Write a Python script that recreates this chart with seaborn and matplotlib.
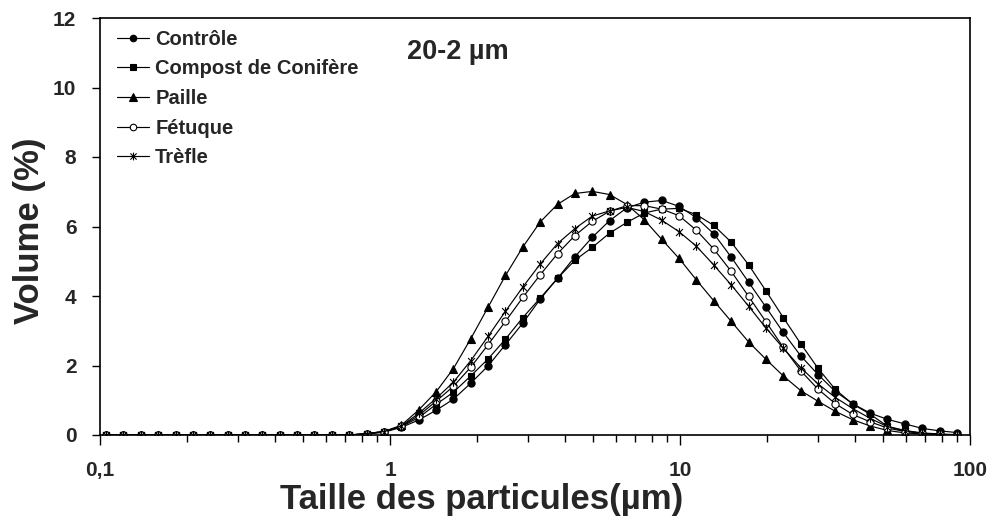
import matplotlib
matplotlib.use("Agg")
import matplotlib.pyplot as plt
from matplotlib.path import Path
from matplotlib.ticker import FixedLocator, LogLocator, NullFormatter
import seaborn as sns

# Particle size classes (µm), geometric progression of the laser sizer
sizes = [0.105, 0.1205, 0.1383, 0.1588, 0.1822, 0.2092, 0.2401, 0.2756, 0.3163, 0.3631,
         0.4168, 0.4784, 0.5491, 0.6302, 0.7234, 0.8303, 0.9530, 1.0939, 1.2556, 1.4412,
         1.6542, 1.8987, 2.1794, 2.5015, 2.8713, 3.2957, 3.7829, 4.3420, 4.9838, 5.7205,
         6.5660, 7.5366, 8.6506, 9.9292, 11.397, 13.081, 15.015, 17.234, 19.782, 22.706,
         26.062, 29.914, 34.336, 39.411, 45.237, 51.923, 59.598, 68.407, 78.518, 90.124]

zeros = [0.0] * 15

controle = zeros + [0.03, 0.08, 0.22, 0.43, 0.71, 1.03, 1.49, 1.99, 2.60, 3.22,
                    3.91, 4.51, 5.13, 5.69, 6.17, 6.54, 6.70, 6.75, 6.58, 6.25,
                    5.79, 5.12, 4.40, 3.68, 2.95, 2.28, 1.74, 1.25, 0.90, 0.63,
                    0.45, 0.32, 0.19, 0.12, 0.07]
compost = zeros + [0.03, 0.09, 0.24, 0.50, 0.88, 1.23, 1.70, 2.19, 2.76, 3.38,
                   3.94, 4.51, 5.03, 5.40, 5.81, 6.12, 6.39, 6.50, 6.52, 6.34,
                   6.03, 5.55, 4.90, 4.15, 3.38, 2.63, 1.92, 1.31, 0.89, 0.60,
                   0.25, 0.13, 0.06, 0.03, 0.01]
paille = zeros + [0.04, 0.10, 0.28, 0.72, 1.24, 1.91, 2.77, 3.68, 4.59, 5.41,
                  6.13, 6.64, 6.95, 7.01, 6.92, 6.63, 6.19, 5.63, 5.08, 4.46,
                  3.86, 3.27, 2.68, 2.18, 1.70, 1.28, 0.97, 0.68, 0.44, 0.26,
                  0.13, 0.06, 0.03, 0.01, 0.0]
fetuque = zeros + [0.04, 0.10, 0.25, 0.56, 0.97, 1.40, 1.95, 2.60, 3.27, 3.96,
                   4.61, 5.22, 5.74, 6.15, 6.44, 6.60, 6.60, 6.50, 6.31, 5.89,
                   5.35, 4.71, 3.99, 3.26, 2.52, 1.85, 1.32, 0.90, 0.59, 0.38,
                   0.20, 0.10, 0.05, 0.02, 0.0]
trefle = zeros + [0.04, 0.10, 0.26, 0.62, 1.05, 1.52, 2.14, 2.84, 3.56, 4.26,
                  4.92, 5.51, 5.94, 6.30, 6.45, 6.55, 6.43, 6.18, 5.85, 5.43,
                  4.89, 4.32, 3.71, 3.08, 2.50, 1.94, 1.47, 1.08, 0.76, 0.48,
                  0.24, 0.12, 0.05, 0.02, 0.0]

labels = ["Contrôle", "Compost de Conifère", "Paille", "Fétuque", "Trèfle"]
x_tick_values = [0.1, 1, 10, 100]
x_tick_labels = ["0,1", "1", "10", "100"]
y_tick_values = [0, 2, 4, 6, 8, 10, 12]

sns.set_theme(style="white")
plt.rcParams["font.family"] = ["Liberation Sans", "DejaVu Sans"]
plt.rcParams["font.weight"] = "bold"

# asterisk: an X crossed by a vertical bar
star_path = Path(
    [(-1, -1), (1, 1), (-1, 1), (1, -1), (0, -1.25), (0, 1.25)],
    [Path.MOVETO, Path.LINETO, Path.MOVETO, Path.LINETO, Path.MOVETO, Path.LINETO],
)

series = [controle, compost, paille, fetuque, trefle]
styles = [
    dict(marker="o", ms=5.2, mfc="black"),
    dict(marker="s", ms=4.8, mfc="black"),
    dict(marker="^", ms=5.8, mfc="black"),
    dict(marker="o", ms=5.2, mfc="white"),
    dict(marker=star_path, ms=6.2, mfc="black"),
]

fig = plt.figure(figsize=(9.94, 5.20), dpi=100)
ax = fig.add_axes([100 / 994, (520 - 435) / 520, 870 / 994, (435 - 18) / 520])

for vals, lab, st in zip(series, labels, styles):
    sns.lineplot(x=sizes, y=vals, ax=ax, color="black", linewidth=0.85,
                 mec="black", mew=0.8, label=lab, **st)

ax.set_xscale("log")
ax.set_xlim(0.1, 100)
ax.set_ylim(0, 12)
ax.xaxis.set_major_locator(FixedLocator(x_tick_values))
ax.set_xticklabels(x_tick_labels)
ax.xaxis.set_minor_locator(LogLocator(base=10, subs=[2, 3, 4, 5, 6, 7, 8, 9]))
ax.xaxis.set_minor_formatter(NullFormatter())
ax.set_yticks(y_tick_values)
ax.set_yticklabels([str(v) for v in y_tick_values])

ax.tick_params(axis="x", which="major", direction="out", length=7, width=1,
               color="black", labelsize=15, pad=12, bottom=True)
ax.tick_params(axis="x", which="minor", direction="out", length=5, width=1,
               color="black", bottom=True)
ax.tick_params(axis="y", which="major", direction="out", length=6, width=1,
               color="black", labelsize=15, pad=11, left=True)
for lbl in ax.get_xticklabels() + ax.get_yticklabels():
    lbl.set_fontweight("bold")

for sp in ax.spines.values():
    sp.set_color("black")
    sp.set_linewidth(1.2)

ax.set_xlabel("Taille des particules(µm)", fontsize=25, fontweight="bold", va="center")
ax.xaxis.set_label_coords(0.439, -0.155)
ax.set_ylabel("Volume (%)", fontsize=25, fontweight="bold", va="center")
ax.yaxis.set_label_coords(-0.0805, 0.49)

ax.text(0.411, 0.918, "20-2 µm", transform=ax.transAxes, ha="center", va="center",
        fontsize=19.5, fontweight="bold")

leg = ax.legend(loc="upper left", bbox_to_anchor=(0.006, 1.0), frameon=False,
                prop=dict(size=14.5, weight="bold"), handlelength=1.6,
                handletextpad=0.3, labelspacing=0.53, borderaxespad=0.3,
                borderpad=0.28, markerscale=0.9)

fig.savefig("out.png", dpi=100)
